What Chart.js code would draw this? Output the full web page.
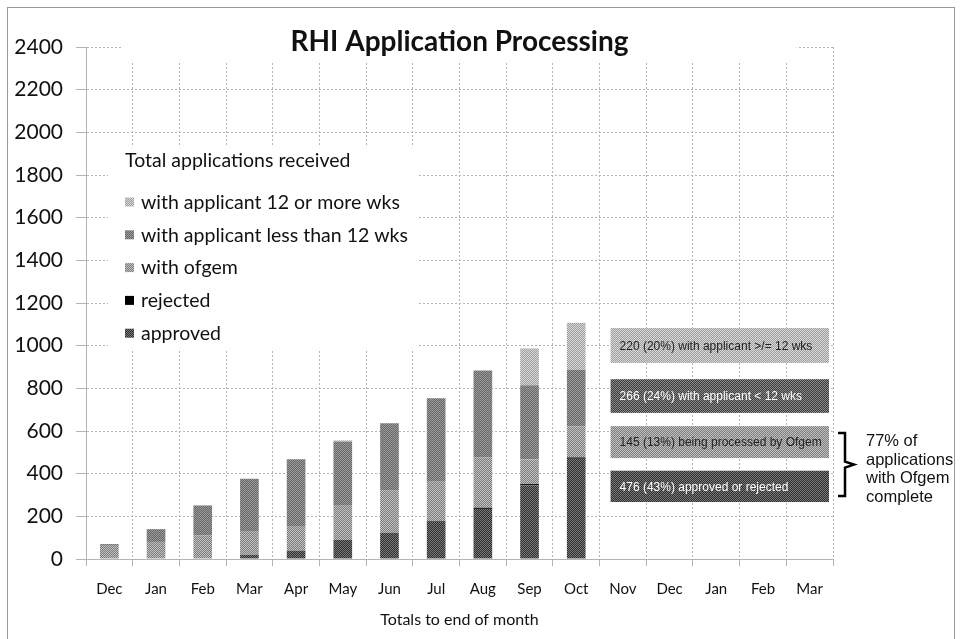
<!DOCTYPE html>
<html>
<head>
<meta charset="utf-8">
<script src="https://cdn.jsdelivr.net/npm/chart.js@4.4.1/dist/chart.umd.min.js"></script>
<style>
  html, body { margin: 0; padding: 0; background: #fff; }
  #wrap { position: relative; width: 961px; height: 639px; }
</style>
</head>
<body>
<div id="wrap"><canvas id="rhi" width="961" height="639"></canvas></div>
<script>
'use strict'

// months (totals to end of month)
var months = ['Dec','Jan','Feb','Mar','Apr','May','Jun','Jul','Aug','Sep','Oct','Nov','Dec','Jan','Feb','Mar'];

// stacked series
var approved   = [0, 0, 0, 20, 39, 89, 123, 175, 235, 345, 470];
var rejected   = [0, 0, 0, 0, 0, 0, 0, 3, 5, 6, 6];
var withOfgem  = [62, 80, 110, 108, 116, 164, 200, 184, 236, 116, 145];
var lessThan12 = [8, 60, 141, 248, 312, 298, 313, 391, 408, 348, 266];
var over12     = [0, 0, 0, 0, 0, 5, 0, 0, 0, 172, 220];

var seriesNames = ['approved', 'rejected', 'with ofgem', 'with applicant less than 12 wks', 'with applicant 12 or more wks'];
var legendTitle = 'Total applications received';

var yTicks = [0, 200, 400, 600, 800, 1000, 1200, 1400, 1600, 1800, 2000, 2200, 2400];

// boxes on the right (top to bottom) and the note by the brace
var boxTexts = ['220 (20%) with applicant >/= 12 wks', '266 (24%) with applicant < 12 wks', '145 (13%) being processed by Ofgem', '476 (43%) approved or rejected'];
var noteLines = ['77% of', 'applications', 'with Ofgem', 'complete'];

var FONT = 'Lato, "Open Sans", sans-serif';
var ARIAL = '"Liberation Sans", Arial, sans-serif';

// little dither patterns so the bars look like the scanned greys
function pat(a, b) {
  var c = document.createElement('canvas');
  c.width = 2; c.height = 2;
  var x = c.getContext('2d');
  x.fillStyle = a; x.fillRect(0, 0, 2, 2);
  x.fillStyle = b; x.fillRect(0, 0, 1, 1); x.fillRect(1, 1, 1, 1);
  return x.createPattern(c, 'repeat');
}
var cApproved = pat('#2e2e2e', '#7a7a7a');
var cRejected = '#000';
var cOfgem = pat('#7c7c7c', '#c2c2c2');
var cLess = pat('#686868', '#9a9a9a');
var cOver = pat('#9c9c9c', '#dadada');
var cBox2 = pat('#3c3c3c', '#8a8a8a');

var fills = [cApproved, cRejected, cOfgem, cLess, cOver];
var values = [approved, rejected, withOfgem, lessThan12, over12];

var datasets = [];
for (var i = 0; i < values.length; i++) {
  datasets.push({
    label: seriesNames[i],
    data: values[i],
    backgroundColor: fills[i],
    borderWidth: 0,
    categoryPercentage: 1,
    barPercentage: 0.4
  });
}

// title, legend, text boxes, brace
var extras = {
  id: 'extras',
  beforeDatasetsDraw: function(chart) {
    var ctx = chart.ctx, a = chart.chartArea;
    var cx = (a.left + a.right) / 2;
    ctx.save();
    ctx.fillStyle = '#fff';
    // title background
    ctx.fillRect(cx - 337, 20, 674, 41);
    // legend background
    ctx.fillRect(a.left + 22, a.top + 98, 309, 206);
    ctx.restore();
  },
  afterDatasetsDraw: function(chart) {
    var ctx = chart.ctx, a = chart.chartArea;
    var y = chart.scales.y, x = chart.scales.x;
    var cx = (a.left + a.right) / 2;
    ctx.save();

    // title
    ctx.fillStyle = '#111';
    ctx.font = 'bold 28px ' + FONT;
    ctx.textAlign = 'center';
    ctx.textBaseline = 'middle';
    ctx.fillText('RHI Application Processing', cx, 42);

    // legend (reverse order like excel)
    ctx.textAlign = 'left';
    ctx.font = '19.5px ' + FONT;
    ctx.fillStyle = '#111';
    var lx = a.left + 39, ly = a.top + 114;
    ctx.fillText(legendTitle, lx, ly);
    var ds = chart.data.datasets;
    for (var k = ds.length - 1, r = 0; k >= 0; k--, r++) {
      var ry = ly + 41.5 + r * 32.8;
      ctx.fillStyle = ds[k].backgroundColor;
      ctx.fillRect(lx, ry - 5, 9, 9);
      ctx.fillStyle = '#111';
      ctx.fillText(ds[k].label, lx + 16, ry);
    }

    // grey boxes on the right
    var spans = [[1083, 919], [843, 685], [623, 473], [414, 267]];
    var bfill = [cOver, cBox2, cOfgem, cApproved];
    var tcol = ['#222', '#fff', '#222', '#fff'];
    var bx = x.getPixelForValue(11) - x.width / 32 + 11;
    var bw = a.right - 4 - bx;
    ctx.font = '12px ' + ARIAL;
    for (var b = 0; b < boxTexts.length; b++) {
      var t = y.getPixelForValue(spans[b][0]);
      var bt = y.getPixelForValue(spans[b][1]);
      ctx.fillStyle = bfill[b];
      ctx.fillRect(bx, t, bw, bt - t);
      ctx.fillStyle = tcol[b];
      ctx.fillText(boxTexts[b], bx + 9, (t + bt) / 2 + 1);
    }

    // brace
    var top = y.getPixelForValue(spans[2][0]) + 7;
    var bot = y.getPixelForValue(spans[3][1]) - 6;
    var mid = (top + bot) / 2;
    var r0 = a.right + 5, r1 = a.right + 12, r2 = a.right + 21;
    ctx.strokeStyle = '#000';
    ctx.lineWidth = 2.5;
    ctx.beginPath();
    ctx.moveTo(r0, top); ctx.lineTo(r1, top); ctx.lineTo(r1, mid - 3);
    ctx.lineTo(r2, mid); ctx.lineTo(r1, mid + 3); ctx.lineTo(r1, bot); ctx.lineTo(r0, bot);
    ctx.stroke();

    ctx.fillStyle = '#111';
    ctx.font = '16.5px ' + ARIAL;
    for (var n = 0; n < noteLines.length; n++) {
      ctx.fillText(noteLines[n], a.right + 33, mid - 23 + n * 18.5);
    }

    // outer frame
    ctx.strokeStyle = '#999';
    ctx.lineWidth = 1;
    ctx.strokeRect(7.5, 7.5, 947, 640);
    ctx.restore();
  }
};

Chart.defaults.font.family = FONT;
Chart.defaults.color = '#111';

var chart = new Chart(document.getElementById('rhi'), {
  type: 'bar',
  data: { labels: months, datasets: datasets },
  plugins: [extras],
  options: {
    responsive: false,
    animation: false,
    layout: { padding: { left: 0, right: 128, top: 47, bottom: 0 } },
    plugins: {
      legend: { display: false },
      title: { display: false },
      tooltip: { enabled: false }
    },
    scales: {
      x: {
        stacked: true,
        grid: { color: '#b4b4b4', tickLength: 7, offset: true },
        border: { color: '#b4b4b4', dash: [2, 2] },
        ticks: { font: { size: 15 }, padding: 14, maxRotation: 0, autoSkip: false },
        title: { display: true, text: 'Totals to end of month', font: { size: 16 }, padding: { top: 0, bottom: 10 } },
        afterFit: function(s) { s.height = 80; }
      },
      y: {
        stacked: true,
        min: 0,
        max: 2400,
        afterBuildTicks: function(s) { s.ticks = yTicks.map(function(v) { return { value: v }; }); },
        grid: { color: '#b4b4b4', tickLength: 10 },
        border: { color: '#b4b4b4', dash: [2, 2] },
        ticks: { font: { size: 21 }, padding: 13, callback: function(v) { return String(v); } },
        afterFit: function(s) { s.width = 86; }
      }
    }
  }
});
</script>
</body>
</html>
